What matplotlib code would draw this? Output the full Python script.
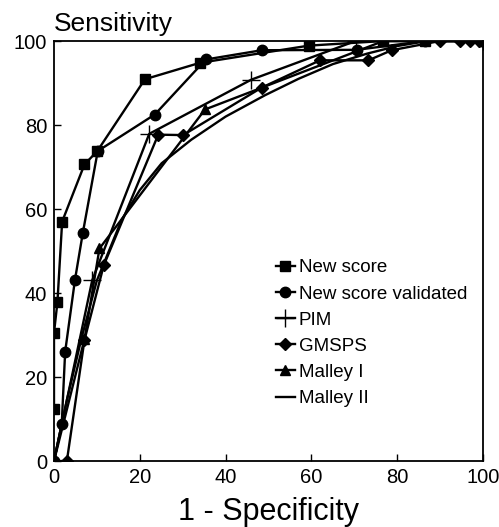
import matplotlib
matplotlib.use('Agg')
import matplotlib.pyplot as plt

plt.rcParams['font.family'] = ['Liberation Sans', 'DejaVu Sans']

# data (x = 1 - specificity, y = sensitivity, %)
new_x = [0, 0, 0.8, 1.9, 7.1, 10.1, 21.2, 34, 59.4, 76.8, 86.5, 100]
new_y = [12.5, 30.5, 37.8, 57, 70.6, 73.8, 90.9, 94.8, 98.9, 100, 100, 100]

val_x = [0, 1.8, 2.6, 4.9, 6.7, 10.2, 23.5, 35.4, 48.4, 70.6, 86.5, 100]
val_y = [0, 8.7, 26, 43.2, 54.2, 73.8, 82.5, 95.6, 97.8, 97.9, 100, 100]

pim_x = [0, 8.9, 22.2, 46, 70.3, 100]
pim_y = [0, 43, 77.9, 90.8, 100, 100]

gms_x = [0, 3, 7.1, 11.6, 24.3, 30.1, 48.4, 62, 73.3, 78.7, 90, 94.6, 97, 99, 100]
gms_y = [0, 0, 28.8, 46.6, 77.7, 77.6, 88.9, 95.4, 95.4, 97.8, 100, 100, 100, 100, 100]

m1_x = [0, 7.1, 10.6, 35.2, 76.8, 100]
m1_y = [0, 29, 50.6, 83.7, 100, 100]

m2_x = [0, 3, 6.5, 10, 15.8, 20, 25.1, 32, 40, 49.2, 57, 65, 73, 80, 87, 100]
m2_y = [0, 14.5, 29.6, 43, 57.5, 64.5, 70.9, 76.5, 82, 87.1, 91, 94.5, 97, 98.8, 100, 100]

fig = plt.figure(figsize=(4.99, 5.27), dpi=100)
ax = fig.add_axes([0.1082, 0.1252, 0.8598, 0.7970])

lw = 1.7
ax.plot(new_x, new_y, color='k', lw=lw, marker='s', ms=6.5, label='New score')
ax.plot(val_x, val_y, color='k', lw=lw, marker='o', ms=7.5, label='New score validated')
ax.plot(pim_x, pim_y, color='k', lw=lw, marker='+', ms=13, mew=1.0, label='PIM')
ax.plot(gms_x, gms_y, color='k', lw=lw, marker='D', ms=6, label='GMSPS')
ax.plot(m1_x, m1_y, color='k', lw=lw, marker='^', ms=7.5, label='Malley I')
ax.plot(m2_x, m2_y, color='k', lw=lw, label='Malley II')

ax.set_xlim(0, 100)
ax.set_ylim(0, 100)
ax.set_xticks([0, 20, 40, 60, 80, 100])
ax.set_yticks([0, 20, 40, 60, 80, 100])
ax.tick_params(direction='in', length=5, width=1, labelsize=14.5, pad=5)
for s in ax.spines.values():
    s.set_linewidth(1.3)

ax.set_xlabel('1 - Specificity', fontsize=22, labelpad=7)
ax.text(0.0, 1.012, 'Sensitivity', transform=ax.transAxes, fontsize=19,
        ha='left', va='bottom')

ax.legend(loc='upper left', bbox_to_anchor=(0.5, 0.498), frameon=False,
          fontsize=13.5, handlelength=1.0, handletextpad=0.2, labelspacing=0.48,
          borderaxespad=0)

fig.savefig('out.png', dpi=100)
